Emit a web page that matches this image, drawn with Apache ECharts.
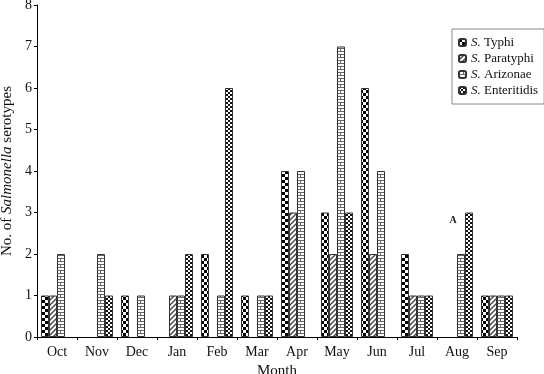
<!DOCTYPE html>
<html><head><meta charset="utf-8">
<script src="https://cdn.jsdelivr.net/npm/echarts@6/dist/echarts.min.js"></script>
<style>html,body{margin:0;padding:0;background:#fff}#c{width:544px;height:374px}</style>
</head><body><div id="c"></div>
<script>
var months = ['Oct','Nov','Dec','Jan','Feb','Mar','Apr','May','Jun','Jul','Aug','Sep'];
var seriesNames = ['S. Typhi','S. Paratyphi','S. Arizonae','S. Enteritidis'];
var typhi       = [1,0,1,0,2,1,4,3,6,2,0,1];
var paratyphi   = [1,0,0,1,0,0,3,2,2,1,0,1];
var arizonae    = [2,2,1,1,1,1,4,7,4,1,2,1];
var enteritidis = [0,1,0,2,6,1,0,3,0,1,3,1];
var yTicks = [0,1,2,3,4,5,6,7,8];

function pat(w,h,draw){var c=document.createElement('canvas');c.width=w;c.height=h;var g=c.getContext('2d');g.fillStyle='#fff';g.fillRect(0,0,w,h);draw(g);return {image:c,repeat:'repeat'};}
var pChecker = pat(6,6,function(g){g.fillStyle='#000';g.fillRect(0,0,3,3);g.fillRect(3,3,3,3);});
var pStripe = pat(5,5,function(g){g.strokeStyle='#444';g.lineWidth=1.4;g.beginPath();g.moveTo(-1,6);g.lineTo(6,-1);g.moveTo(-1,1);g.lineTo(1,-1);g.moveTo(4,6);g.lineTo(6,4);g.stroke();});
var pBrick = pat(8,6,function(g){g.fillStyle='#666';g.fillRect(0,0,8,1);g.fillRect(0,3,8,1);g.fillRect(4,0,1,3);g.fillRect(0,3,1,3);});
var pDots = pat(4,4,function(g){g.fillStyle='#111';g.fillRect(0,0,2,2);g.fillRect(2,2,2,2);});
var pats = [pChecker,pStripe,pBrick,pDots];
var datas = [typhi,paratyphi,arizonae,enteritidis];

var font = '"Liberation Serif","DejaVu Serif",serif';
var series = seriesNames.map(function(n,i){
  var s = {name:n,type:'bar',
    data:datas[i].map(function(v){return v===0?null:v;}),
    barWidth:8,barGap:'0%',
    itemStyle:{color:pats[i],borderColor:'#333',borderWidth:1}};
  if(i===1){s.markPoint={symbol:'circle',symbolSize:1,itemStyle:{color:'rgba(0,0,0,0)'},
    label:{show:true,formatter:'A',color:'#222',fontSize:10,fontWeight:'bold',fontFamily:font,position:'inside'},
    data:[{coord:['Aug',2.8]}]};}
  return s;
});

var chart = echarts.init(document.getElementById('c'));
chart.setOption({
  animation:false,
  grid:{left:37,right:27,top:5,bottom:37,containLabel:false,outerBoundsMode:'none'},
  legend:{orient:'vertical',left:452,top:29,itemWidth:7,itemHeight:7,itemGap:3,
    padding:[7,6,7,6],borderColor:'#888',borderWidth:1,backgroundColor:'#fff',
    data:seriesNames,
    formatter:function(n){return '{i|S.} '+n.split(' ')[1];},
    textStyle:{fontFamily:font,fontSize:13,color:'#111',lineHeight:13,rich:{i:{fontStyle:'italic',fontFamily:font,fontSize:13,lineHeight:13,color:'#111'}}}},
  xAxis:{type:'category',data:months,name:'Month',nameLocation:'middle',nameGap:21,
    nameTextStyle:{fontFamily:font,fontSize:15,color:'#111'},
    axisLine:{lineStyle:{color:'#000'}},axisTick:{show:true,length:3,lineStyle:{color:'#000'}},
    axisLabel:{fontFamily:font,fontSize:14,color:'#111',margin:8}},
  yAxis:{type:'value',min:yTicks[0],max:yTicks[yTicks.length-1],interval:1,
    name:'No. of {i|Salmonella} serotypes',nameLocation:'middle',nameGap:20,
    nameTextStyle:{fontFamily:font,fontSize:15,color:'#111',rich:{i:{fontStyle:'italic',fontFamily:font,fontSize:15,color:'#111'}}},
    splitLine:{show:false},
    axisLine:{show:true,lineStyle:{color:'#000'}},axisTick:{show:true,length:3,lineStyle:{color:'#000'}},
    axisLabel:{fontFamily:font,fontSize:14,color:'#111',margin:5}},
  series:series
});
</script></body></html>
